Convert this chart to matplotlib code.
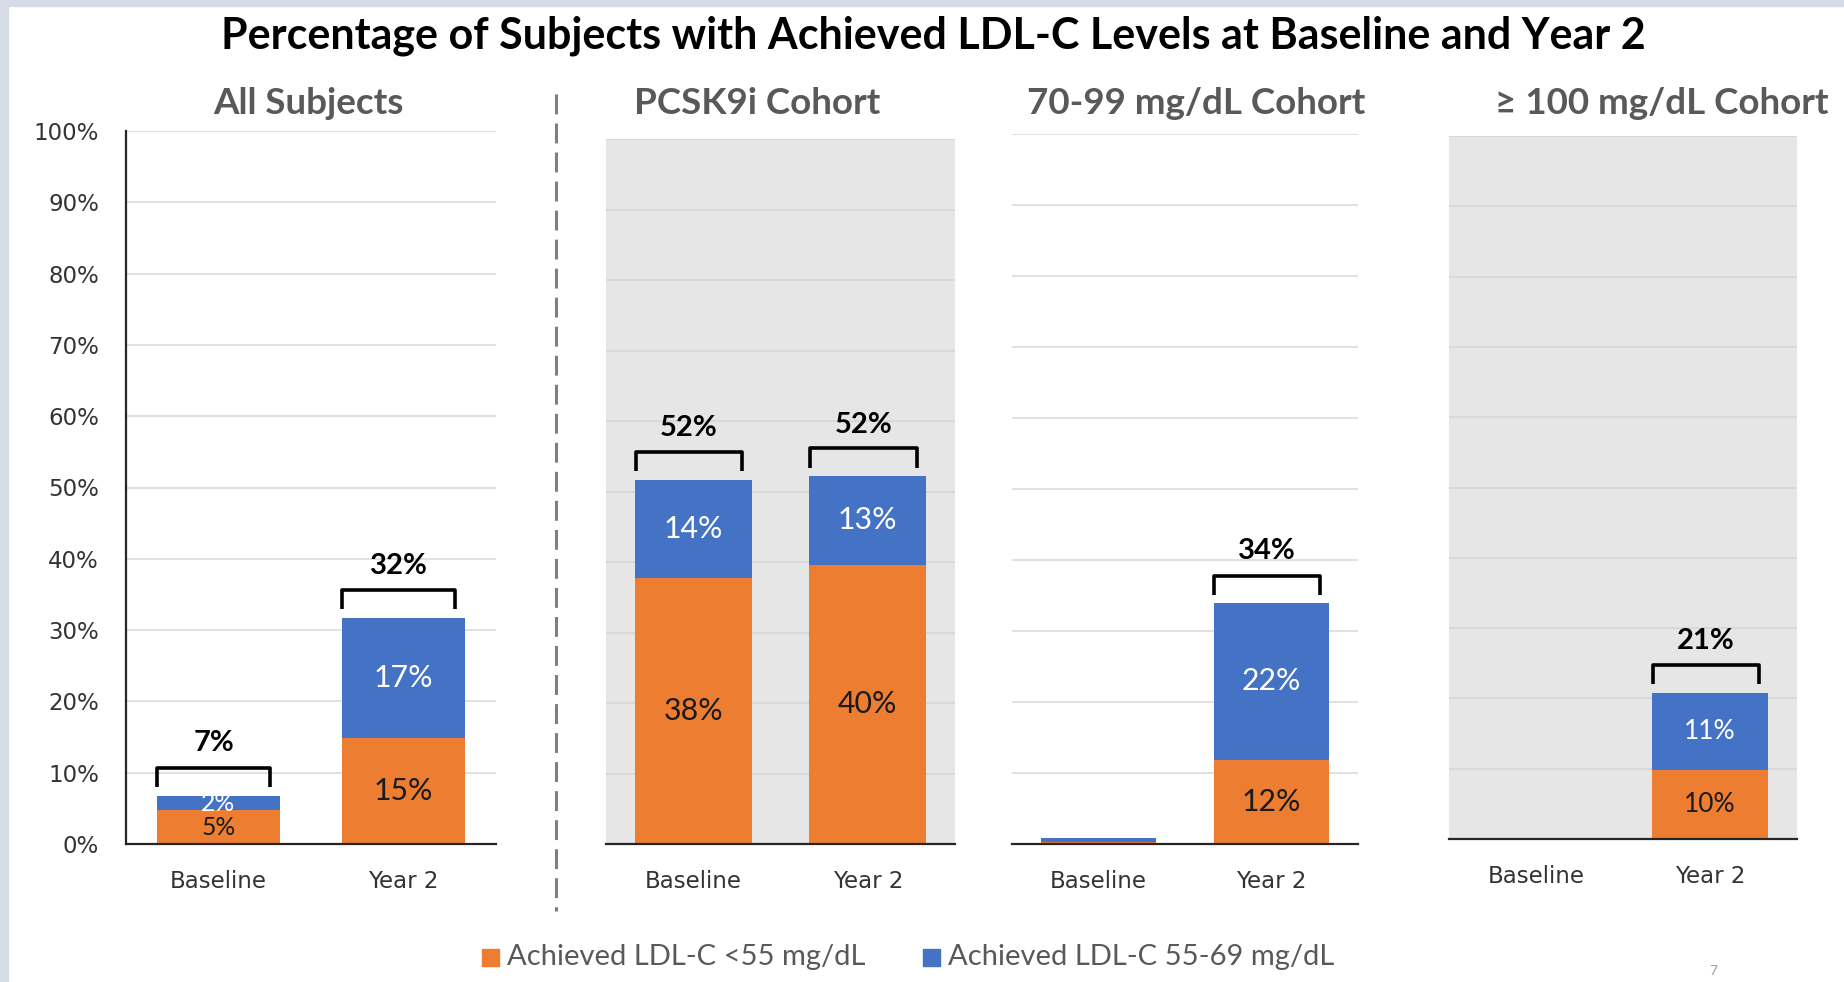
import matplotlib
matplotlib.use("Agg")
import matplotlib.pyplot as plt
from matplotlib.patches import Rectangle

# ---- data ----
panel_titles = ["All Subjects", "PCSK9i Cohort", "70-99 mg/dL Cohort", "\u2265 100 mg/dL Cohort"]
categories = ["Baseline", "Year 2"]
below_55 = [[4.7, 14.9], [37.8, 39.6], [0.3, 11.9], [0.0, 9.8]]      # Achieved LDL-C <55 mg/dL
from_55_69 = [[2.1, 16.8], [13.9, 12.6], [0.5, 22.0], [0.0, 11.0]]   # Achieved LDL-C 55-69 mg/dL
show_labels = [[True, True], [True, True], [False, True], [False, True]]
yticks = [0, 10, 20, 30, 40, 50, 60, 70, 80, 90, 100]

ORANGE = "#ED7D31"
BLUE = "#4472C4"
W, H = 1844, 982
TXT = ["Lato", "DejaVu Sans"]

# panel boxes in pixels: x0, x1, y of 100%, y of 0%
boxes = [(126, 496, 131, 844), (606, 955, 139, 844),
         (1012, 1358, 134, 844), (1449, 1797, 136, 839)]
gray_bg = [False, True, False, True]
inner_size = [[17.8, 21.8], [21.8, 21.8], [21.8, 21.8], [19, 19]]
title_x = [308, 757, 1196, 1662]

fig = plt.figure(figsize=(W / 100, H / 100), dpi=100)
fig.patch.set_facecolor("white")

# slide border strips
fig.patches.append(Rectangle((0, 0), 8 / W, 1, transform=fig.transFigure, color="#d6dce5", zorder=0))
fig.patches.append(Rectangle((0, 1 - 6 / H), 1, 6 / H, transform=fig.transFigure, color="#d6dce5", zorder=0))

width = 0.67
for i, (x0, x1, ytop, ybot) in enumerate(boxes):
    ax = fig.add_axes([x0 / W, 1 - ybot / H, (x1 - x0) / W, (ybot - ytop) / H])
    ax.set_facecolor("#e6e6e6" if gray_bg[i] else "white")
    ax.set_xlim(-0.5, 1.5)
    ax.set_ylim(0, 100)
    ax.set_yticks(yticks)
    ax.yaxis.grid(True, color="#d4d4d4" if gray_bg[i] else "#d9d9d9", lw=1.1)
    ax.set_axisbelow(True)
    for s in ["top", "right"]:
        ax.spines[s].set_visible(False)
    ax.spines["bottom"].set_color("#262626")
    ax.spines["bottom"].set_linewidth(1.6)
    if i == 0:
        ax.spines["left"].set_color("#262626")
        ax.spines["left"].set_linewidth(1.6)
        ax.set_yticklabels([f"{t}%" for t in yticks], fontsize=16.5, color="#333333",
                           family="DejaVu Sans")
        ax.tick_params(axis="y", length=0, pad=19.5)
    else:
        ax.spines["left"].set_visible(False)
        ax.tick_params(axis="y", length=0, labelleft=False)
    ax.set_xticks([0, 1])
    ax.set_xticklabels(categories, fontsize=16.5, color="#333333", family="DejaVu Sans")
    ax.tick_params(axis="x", length=0, pad=19)

    xs = [0, 1]
    lo = below_55[i]
    hi = from_55_69[i]
    ax.bar(xs, lo, width, color=ORANGE, zorder=2)
    ax.bar(xs, hi, width, bottom=lo, color=BLUE, zorder=2)

    for j in xs:
        if not show_labels[i][j]:
            continue
        total = lo[j] + hi[j]
        fs = inner_size[i][j]
        ax.text(j, lo[j] / 2, f"{lo[j]:.0f}%", ha="center", va="center",
                fontsize=fs, color="#1a1a1a", family=TXT, zorder=3)
        ax.text(j, lo[j] + hi[j] / 2, f"{hi[j]:.0f}%", ha="center", va="center",
                fontsize=fs, color="white", family=TXT, zorder=3)
        # bracket over the stacked bar
        bl, br = j - 0.33, j + 0.28
        leg, top = total + 1.2, total + 3.9
        ax.plot([bl, bl, br, br], [leg, top, top, leg], color="black", lw=2.6,
                solid_joinstyle="round", solid_capstyle="butt", zorder=3, clip_on=False)
        ax.text((bl + br) / 2, total + 7.3, f"{total:.0f}%", ha="center", va="center",
                fontsize=21, fontweight="bold", color="black", family=TXT, clip_on=False)

    fig.text(title_x[i] / W, 1 - 103 / H, panel_titles[i], ha="center", va="center",
             fontsize=26.5, fontweight="bold", color="#595959", family=TXT)

fig.text(933 / W, 1 - 36 / H, "Percentage of Subjects with Achieved LDL-C Levels at Baseline and Year 2",
         ha="center", va="center", fontsize=31, fontweight="bold", color="black", family=TXT)

# dashed divider between the overall panel and the cohorts
fig.add_artist(plt.Line2D([556 / W, 556 / W], [1 - 94 / H, 1 - 911 / H], transform=fig.transFigure,
                          color="#7f7f7f", lw=2.2, ls=(0, (6.5, 3))))

# legend
ly = 1 - 957 / H
fig.patches.append(Rectangle((482 / W, ly - 9 / H), 17 / W, 17 / H, transform=fig.transFigure, color=ORANGE))
fig.text(507 / W, ly, "Achieved LDL-C <55 mg/dL", ha="left", va="center",
         fontsize=21, color="#595959", family=TXT)
fig.patches.append(Rectangle((923 / W, ly - 9 / H), 17 / W, 17 / H, transform=fig.transFigure, color=BLUE))
fig.text(948 / W, ly, "Achieved LDL-C 55-69 mg/dL", ha="left", va="center",
         fontsize=21, color="#595959", family=TXT)

fig.text(1713 / W, 1 - 971 / H, "7", ha="center", va="center", fontsize=10, color="#a0a0a0", family=TXT)

fig.savefig("out.png", dpi=100, facecolor=fig.get_facecolor())
